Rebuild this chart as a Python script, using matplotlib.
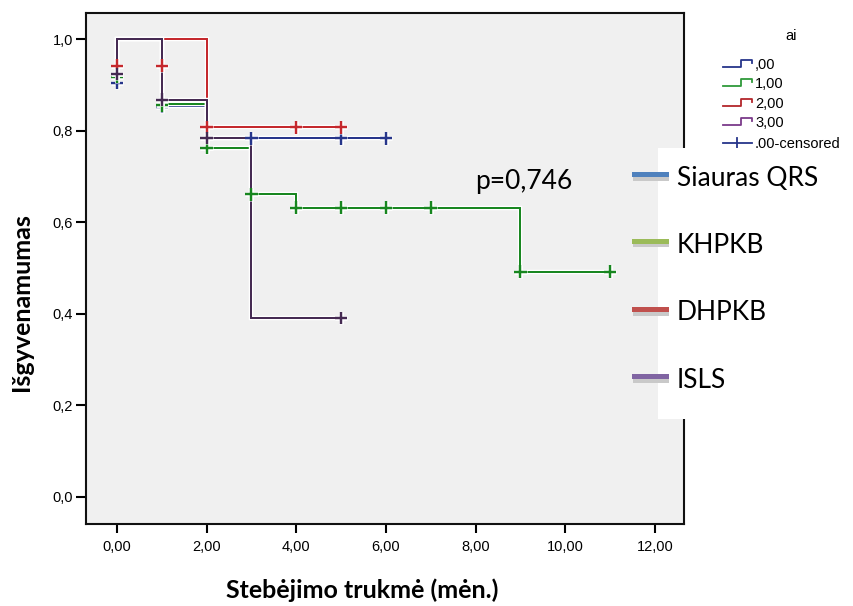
import matplotlib
matplotlib.use("Agg")
import matplotlib.pyplot as plt
from matplotlib.lines import Line2D
from matplotlib.patches import Rectangle
import matplotlib.patheffects as pe

# ---- survival curves (step functions) ----
groups = [",00", "1,00", "2,00", "3,00"]
colors = ["#26358a", "#17861f", "#c5282d", "#452a52"]
legend_colors = ["#26358a", "#2f9a3a", "#b3262b", "#7b3a8a"]

times_00 = [0, 0, 1, 2, 6]
surv_00 = [0.905, 1.0, 0.854, 0.783, 0.783]
times_10 = [0, 0, 1, 2, 3, 4, 9, 11]
surv_10 = [0.918, 1.0, 0.858, 0.763, 0.661, 0.632, 0.492, 0.492]
times_20 = [0, 0, 2, 5]
surv_20 = [0.942, 1.0, 0.807, 0.807]
times_30 = [0, 0, 1, 2, 3, 5]
surv_30 = [0.924, 1.0, 0.868, 0.784, 0.391, 0.391]

# ---- censored observations ----
cens_t_00 = [0, 1, 3, 5, 6]
cens_s_00 = [0.905, 0.852, 0.783, 0.783, 0.783]
cens_t_10 = [0, 1, 2, 3, 4, 5, 6, 7, 9, 11]
cens_s_10 = [0.918, 0.855, 0.763, 0.661, 0.632, 0.632, 0.632, 0.632, 0.492, 0.492]
cens_t_20 = [0, 1, 2, 4, 5]
cens_s_20 = [0.942, 0.942, 0.807, 0.807, 0.807]
cens_t_30 = [0, 1, 2, 5]
cens_s_30 = [0.924, 0.868, 0.784, 0.391]

xticks = [0, 2, 4, 6, 8, 10, 12]
xtick_labels = ["0,00", "2,00", "4,00", "6,00", "8,00", "10,00", "12,00"]
yticks = [0.0, 0.2, 0.4, 0.6, 0.8, 1.0]
ytick_labels = ["0,0", "0,2", "0,4", "0,6", "0,8", "1,0"]

overlay_labels = ["Siauras QRS", "KHPKB", "DHPKB", "ISLS"]
overlay_colors = ["#4f81bd", "#9bbb59", "#c0504d", "#8064a2"]
p_text = "p=0,746"

W, H = 854, 606
fig = plt.figure(figsize=(W / 100, H / 100), dpi=100)
fig.patch.set_facecolor("white")

def fx(px):
    return px / W

def fy(py):
    return 1 - py / H

ax = fig.add_axes([fx(86), fy(524), fx(684) - fx(86), fy(13) - fy(524)])
ax.set_facecolor("#f0f0f0")
ax.set_xlim(-0.69, 12.65)
ax.set_ylim(-0.059, 1.057)

spss_font = ["Liberation Sans Narrow", "Liberation Sans", "DejaVu Sans"]
title_font = ["Lato", "DejaVu Sans"]

halo = [pe.withStroke(linewidth=3.2, foreground="white"), pe.Normal()]

series = [
    (times_00, surv_00, cens_t_00, cens_s_00),
    (times_10, surv_10, cens_t_10, cens_s_10),
    (times_20, surv_20, cens_t_20, cens_s_20),
    (times_30, surv_30, cens_t_30, cens_s_30),
]
for (t, s, ct, cs), c in zip(series, colors):
    ax.plot(t, s, drawstyle="steps-post", color=c, lw=1.3,
            path_effects=halo, solid_joinstyle="miter")
for (t, s, ct, cs), c in zip(series, colors):
    ax.plot(ct, cs, linestyle="none", marker="+", markersize=9,
            markeredgewidth=1.6, color=c,
            path_effects=[pe.withStroke(linewidth=3.5, foreground="white"), pe.Normal()])

ax.set_xticks(xticks)
ax.set_xticklabels(xtick_labels, family=spss_font, fontsize=10.5)
ax.set_yticks(yticks)
ax.set_yticklabels(ytick_labels, family=spss_font, fontsize=10.5)
ax.tick_params(axis="x", direction="out", length=6.5, width=1.5, pad=5)
ax.tick_params(axis="y", direction="out", length=7.5, width=1.5, pad=2)
for sp in ax.spines.values():
    sp.set_linewidth(1.5)
    sp.set_color("#111111")

# axis titles
fig.text(fx(362), fy(590), "Stebėjimo trukmė (mėn.)", ha="center", va="center",
         family=title_font, fontweight="bold", fontsize=18)
fig.text(fx(22), fy(302), "Išgyvenamumas", ha="center", va="center", rotation=90,
         family=title_font, fontweight="bold", fontsize=18)

# SPSS legend
fig.text(fx(791), fy(36), "ai", ha="center", va="center", family=spss_font, fontsize=10.5)
row_y = [65, 84, 104, 123]
for g, c, y in zip(groups, legend_colors, row_y):
    xs = [fx(723), fx(741), fx(741), fx(752), fx(752)]
    ys = [fy(y + 2), fy(y + 2), fy(y - 5.5), fy(y - 5.5), fy(y - 2)]
    fig.add_artist(Line2D(xs, ys, color=c, lw=1.3))
    fig.text(fx(755), fy(y), g, ha="left", va="center", family=spss_font, fontsize=10.5)
fig.add_artist(Line2D([fx(723), fx(752)], [fy(143), fy(143)], color=legend_colors[0], lw=1.3))
fig.add_artist(Line2D([fx(737), fx(737)], [fy(137.5), fy(148.5)], color=legend_colors[0], lw=1.3))
fig.text(fx(755), fy(144), ",00-censored", ha="left", va="center", family=spss_font, fontsize=10.5)

# overlay key box
fig.add_artist(Rectangle((fx(658), fy(419)), fx(W) - fx(658), fy(148) - fy(419),
                         transform=fig.transFigure, facecolor="white",
                         edgecolor="none", zorder=5))
key_y = [178, 245, 313, 380]
for lab, c, y in zip(overlay_labels, overlay_colors, key_y):
    fig.add_artist(Rectangle((fx(633), fy(y + 2.5)), fx(669) - fx(633), fy(y - 1.5) - fy(y + 2.5),
                             transform=fig.transFigure, facecolor="#c9c9c9",
                             edgecolor="none", zorder=6))
    fig.add_artist(Rectangle((fx(632), fy(y - 1.5)), fx(669) - fx(632), fy(y - 6) - fy(y - 1.5),
                             transform=fig.transFigure, facecolor=c,
                             edgecolor="none", zorder=7))
    fig.text(fx(677), fy(y), lab, ha="left", va="center", family=title_font,
             fontsize=19, zorder=8)

fig.text(fx(475), fy(181), p_text, ha="left", va="center", family=title_font,
         fontsize=19, zorder=8)

fig.savefig("out.png", dpi=100)
